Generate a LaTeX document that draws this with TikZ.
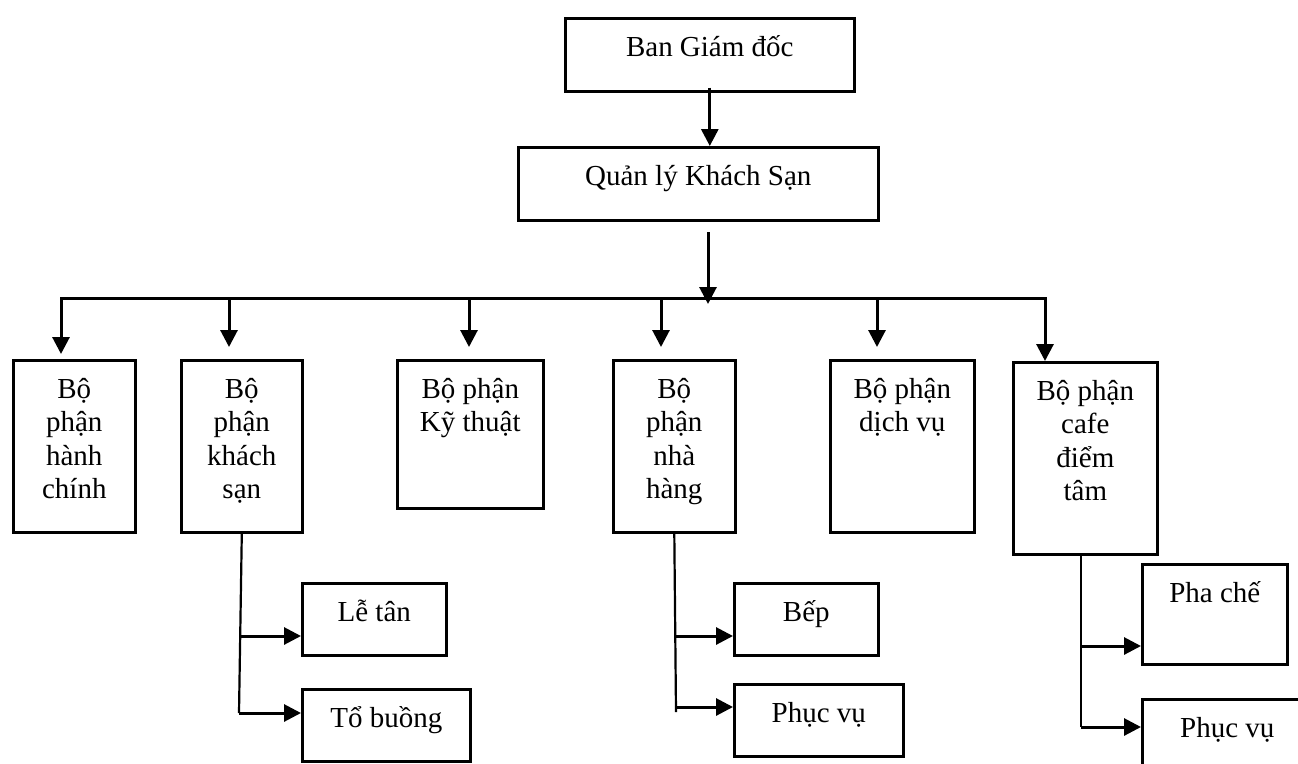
\documentclass[tikz,border=0pt]{standalone}
\usepackage{fontspec}
\setmainfont{Liberation Serif}
\usetikzlibrary{arrows.meta}
\newcommand{\boxtext}[3]{\parbox[t][#2pt][t]{#1pt}{\centering\rule{0pt}{38pt}#3}}

\begin{document}
\begin{tikzpicture}[x=1pt,y=-1pt,font=\fontsize{29}{33.5}\selectfont,
  unit/.style={draw,rectangle,line width=2.6pt,inner sep=0pt,anchor=north west},
  link/.style={line width=3pt},
  arr/.style={link,-{Triangle[length=17pt,width=17pt]}},
  stem/.style={line width=2.2pt}]
\clip (0,0) rectangle (1298,763);

% management
\node[unit] (bgd) at (564,17) {\boxtext{289}{73}{Ban Giám đốc}};
\node[unit] (ql) at (517,146) {\boxtext{360}{73}{Quản lý Khách Sạn}};

% departments
\node[unit] (hc) at (12,359) {\boxtext{122}{172}{Bộ\\phận\\hành\\chính}};
\node[unit] (ks) at (180,359) {\boxtext{121}{172}{Bộ\\phận\\khách\\sạn}};
\node[unit] (kt) at (396,359) {\boxtext{146}{148}{Bộ phận\\Kỹ thuật}};
\node[unit] (nh) at (612,359) {\boxtext{122}{172}{Bộ\\phận\\nhà\\hàng}};
\node[unit] (dv) at (829,359) {\boxtext{144}{172}{Bộ phận\\dịch vụ}};
\node[unit] (cf) at (1012,361) {\boxtext{144}{192}{Bộ phận\\cafe\\điểm\\tâm}};

% sections
\node[unit] (lt) at (301,582) {\boxtext{144}{72}{Lễ tân}};
\node[unit] (tb) at (301,688) {\boxtext{168}{72}{Tổ buồng}};
\node[unit] (bep) at (733,582) {\boxtext{144}{72}{Bếp}};
\node[unit] (pv1) at (733,683) {\boxtext{169}{72}{Phục vụ}};
\node[unit] (pc) at (1141,563) {\boxtext{145}{100}{Pha chế}};
\node[unit] (pv2) at (1141,698) {\boxtext{170}{72}{Phục vụ}};

% top arrows and bus
\draw[arr] ([yshift=5pt]bgd.south) -- (bgd.south |- ql.north);
\coordinate (qlout) at (708,232);
\coordinate (hub) at (708,304);
\draw[arr] (qlout) -- (hub);

\coordinate (d1) at (61,298);
\coordinate (d2) at (229,298);
\coordinate (d3) at (469,298);
\coordinate (d4) at (661,298);
\coordinate (d5) at (877,298);
\coordinate (d6) at (1045,298);
\draw[arr,shorten >=5pt] (d5) -- (d1) -- (d1 |- hc.north);
\draw[arr] (d5) -- (d6) -- (d6 |- cf.north);
\foreach \d/\n in {d2/ks,d3/kt,d4/nh,d5/dv}
  \draw[arr,shorten >=12pt] (\d) -- (\d |- \n.north);

% khach san
\coordinate (k1) at (240,636);
\coordinate (k2) at (239,713);
\draw[stem] (ks.south) -- (k2);
\draw[arr] (k1) -- (k1 -| lt.west);
\draw[arr] (k2) -- (k2 -| tb.west);

% nha hang
\coordinate (n1) at (674,636);
\coordinate (n2) at (676,707);
\draw[stem] (nh.south) -- ([yshift=-5pt]n2);
\draw[arr] (n1) -- (n1 -| bep.west);
\draw[arr] (n2) -- (n2 -| pv1.west);

% cafe
\coordinate (c1) at (1081,646);
\coordinate (c2) at (1081,727);
\draw[stem] (c1 |- cf.south) -- (c2);
\draw[arr] (c1) -- (c1 -| pc.west);
\draw[arr] (c2) -- (c2 -| pv2.west);
\end{tikzpicture}
\end{document}
